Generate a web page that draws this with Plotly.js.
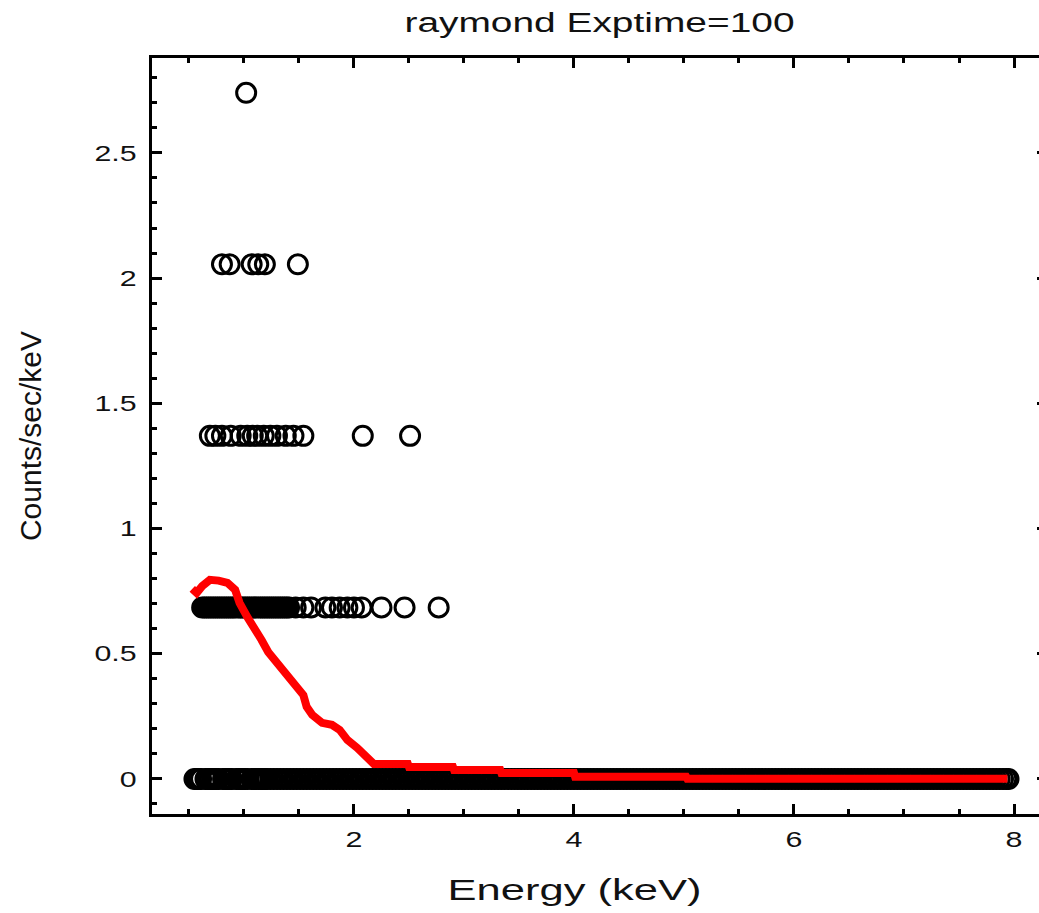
<!DOCTYPE html>
<html>
<head>
<meta charset="utf-8">
<script src="https://cdn.plot.ly/plotly-3.0.1.min.js"></script>
<style>
html, body { margin: 0; padding: 0; overflow: hidden; background: #fff; }
#chart { width: 1052px; height: 913px; }
</style>
</head>
<body>
<div id="chart"></div>
<script>
// Count-rate levels (counts/sec/keV) that the binned data can take: 0,1,2,3,4 counts per bin
const rateLevels = [0, 0.685, 1.37, 2.055, 2.74];

// Bin energies (keV) at each level
const zeroCountE = [0.55,0.57,0.59,0.61,0.65,0.67,0.69,0.71,0.73,0.75,0.77,0.81,0.83,0.85,0.87,0.89,0.93,0.95,0.97,0.99,1.01,1.03,1.07,1.09,1.11,1.13,1.15,1.17,1.19,1.21,
1.24,1.27,1.3,1.33,1.36,1.39,1.42,1.45,1.48,1.51,1.54,1.57,1.6,1.63,1.66,1.69,1.72,1.75,1.78,1.81,1.84,1.87,1.9,1.93,1.96,1.99,
2.02,2.05,2.08,2.11,2.14,2.17,2.2,2.23,2.26,2.29,2.32,2.35,2.38,2.41,2.44,2.47,2.5,2.53,2.56,2.59,2.62,2.65,2.68,2.71,2.74,2.77,2.8,2.83,2.86,2.89,2.92,2.95,2.98,
3.01,3.04,3.07,3.1,3.13,3.16,3.19,3.22,3.25,3.28,3.31,3.34,3.37,3.4,3.43,3.46,3.49,3.52,3.55,3.58,3.61,3.64,3.67,3.7,3.73,3.76,3.79,3.82,3.85,3.88,3.91,3.94,3.97,
4.0,4.03,4.06,4.09,4.12,4.15,4.18,4.21,4.24,4.27,4.3,4.33,4.36,4.39,4.42,4.45,4.48,4.51,4.54,4.57,4.6,4.63,4.66,4.69,4.72,4.75,4.78,4.81,4.84,4.87,4.9,4.93,4.96,4.99,
5.02,5.05,5.08,5.11,5.14,5.17,5.2,5.23,5.26,5.29,5.32,5.35,5.38,5.41,5.44,5.47,5.5,5.53,5.56,5.59,5.62,5.65,5.68,5.71,5.74,5.77,5.8,5.83,5.86,5.89,5.92,5.95,5.98,
6.01,6.04,6.07,6.1,6.13,6.16,6.19,6.22,6.25,6.28,6.31,6.34,6.37,6.4,6.43,6.46,6.49,6.52,6.55,6.58,6.61,6.64,6.67,6.7,6.73,6.76,6.79,6.82,6.85,6.88,6.91,6.94,6.97,
7.0,7.03,7.06,7.09,7.12,7.15,7.18,7.21,7.24,7.27,7.3,7.33,7.36,7.39,7.42,7.45,7.48,7.51,7.54,7.57,7.6,7.63,7.66,7.69,7.72,7.75,7.78,7.81,7.84,7.87,7.9,7.93,7.95];
const oneCountE = [0.62,0.64,0.66,0.68,0.7,0.72,0.74,0.76,0.78,0.8,0.82,0.84,0.86,0.88,0.9,0.92,0.95,0.97,0.99,1.01,1.03,1.05,1.07,1.09,1.11,1.13,1.15,1.17,1.19,1.21,1.23,1.25,1.27,1.29,1.31,1.33,1.35,1.37,1.39,1.41,
1.47,1.54,1.61,1.74,1.8,1.87,1.94,2.0,2.07,2.25,2.46,2.77];
const twoCountE = [0.69,0.74,0.8,0.88,0.97,1.03,1.08,1.12,1.18,1.24,1.3,1.38,1.45,1.54,2.08,2.51];
const threeCountE = [0.8,0.87,1.07,1.13,1.19,1.49];
const fourCountE = [1.02];

// Folded model (red), energy (keV) and rate (counts/sec/keV)
const modelE = [0.53,0.57,0.62,0.69,0.77,0.85,0.92,0.96,1.03,1.1,1.16,1.22,1.28,1.36,1.45,1.54,1.57,1.62,1.71,1.8,1.87,1.94,2.03,2.12,2.17,
2.18,2.49,2.5,2.9,2.91,3.33,3.34,4.0,4.01,5.02,5.03,7.94];
const modelRate = [0.759,0.743,0.77,0.795,0.792,0.783,0.755,0.703,0.647,0.603,0.555,0.507,0.475,0.423,0.383,0.335,0.288,0.256,0.224,0.216,0.196,0.156,0.124,0.088,0.066,
0.060,0.060,0.048,0.048,0.036,0.036,0.024,0.024,0.009,0.009,0.001,0.001];

const chartTitle = 'raymond Exptime=100';
const xTitle = 'Energy (keV)';
const yTitle = 'Counts/sec/keV';

const dataE = [zeroCountE, oneCountE, twoCountE, threeCountE, fourCountE];
const pointsX = [], pointsY = [];
dataE.forEach((arr, k) => arr.forEach(e => { pointsX.push(e); pointsY.push(rateLevels[k]); }));

const traces = [
  {
    type: 'scatter', mode: 'markers', x: pointsX, y: pointsY,
    marker: { symbol: 'circle-open', size: 19, color: '#000', line: { width: 3, color: '#000' } },
    hoverinfo: 'skip', showlegend: false
  },
  {
    type: 'scatter', mode: 'lines', x: modelE, y: modelRate,
    line: { color: '#ff0000', width: 8, shape: 'linear' },
    hoverinfo: 'skip', showlegend: false
  }
];

const tickFont = { family: 'Liberation Sans, Arial, sans-serif', size: 22, color: '#111' };
const axisCommon = {
  showline: true, linewidth: 3, linecolor: '#000', mirror: 'allticks',
  ticks: 'inside', ticklen: 10, tickwidth: 3, tickcolor: '#000',
  showgrid: false, zeroline: false, tickfont: tickFont
};

const layout = {
  width: 1052, height: 913,
  margin: { l: 152, r: 5, t: 58, b: 99 },
  paper_bgcolor: '#fff', plot_bgcolor: '#fff',
  title: { text: chartTitle, font: { family: 'Liberation Sans, Arial, sans-serif', size: 27, color: '#111' },
           x: 0.5, xref: 'paper', xanchor: 'center', y: 0.975, yref: 'container', yanchor: 'middle' },
  xaxis: Object.assign({}, axisCommon, {
    range: [0.164, 8.3], tick0: 0, dtick: 2,
    minor: { dtick: 0.5, tick0: 0, ticks: 'inside', ticklen: 5, tickwidth: 3, tickcolor: '#000' },
    ticklabelstandoff: 4,
    title: { text: xTitle, font: { family: 'Liberation Sans, Arial, sans-serif', size: 30, color: '#111' }, standoff: 28 }
  }),
  yaxis: Object.assign({}, axisCommon, {
    range: [-0.14, 2.879], tick0: 0, dtick: 0.5,
    minor: { dtick: 0.1, tick0: 0, ticks: 'inside', ticklen: 5, tickwidth: 3, tickcolor: '#000' },
    ticklabelstandoff: 8,
    title: { text: yTitle, font: { family: 'Liberation Sans, Arial, sans-serif', size: 30, color: '#111' }, standoff: 56 }
  })
};

Plotly.newPlot('chart', traces, layout, { displayModeBar: false, staticPlot: true }).then(gd => {
  // the reference image is stretched horizontally: widen horizontal texts the same way
  const stretch = (el, factor) => {
    const w = el.getComputedTextLength();
    if (w > 0) {
      el.setAttribute('lengthAdjust', 'spacingAndGlyphs');
      el.setAttribute('textLength', (w * factor).toFixed(1));
    }
  };
  gd.querySelectorAll('.xtick text, .ytick text').forEach(t => stretch(t, 1.38));
  const gt = gd.querySelector('.gtitle');
  if (gt) stretch(gt, 1.44);
  const xt = gd.querySelector('.g-xtitle text');
  if (xt) {
    stretch(xt, 1.45);
    xt.setAttribute('x', (parseFloat(xt.getAttribute('x')) - 25).toFixed(1));
  }
});
</script>
</body>
</html>
